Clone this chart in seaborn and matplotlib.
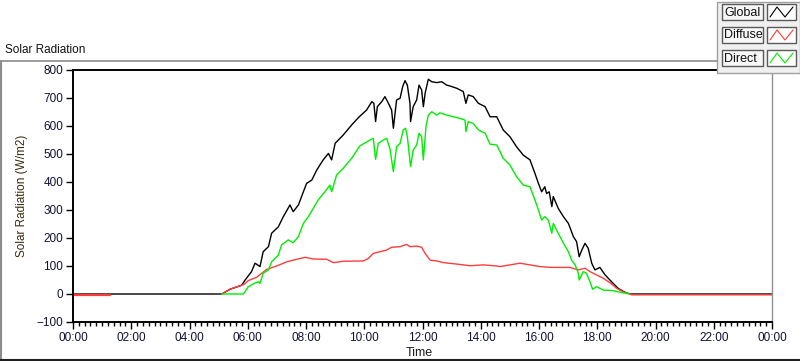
import matplotlib
matplotlib.use("Agg")
import matplotlib.pyplot as plt
import seaborn as sns
import pandas as pd
from matplotlib.lines import Line2D
from matplotlib.patches import Rectangle
from matplotlib.ticker import MultipleLocator, FuncFormatter

# --- data (time in hours of the day, W/m2) ---
global_t = [0.0, 5.11, 5.39, 5.79, 5.91, 6.13, 6.25, 6.42, 6.53, 6.71, 6.82, 7.05, 7.22,
            7.45, 7.56, 7.74, 7.91, 8.02, 8.20, 8.37, 8.59, 8.77, 8.88, 9.00, 9.28, 9.57,
            9.80, 10.08, 10.26, 10.33, 10.39, 10.45, 10.60, 10.71, 10.83, 10.94, 11.00,
            11.11, 11.23, 11.32, 11.40, 11.48, 11.57, 11.59, 11.68, 11.80, 11.88, 11.97,
            12.03, 12.09, 12.20, 12.32, 12.49, 12.66, 12.83, 12.94, 13.17, 13.40, 13.49,
            13.57, 13.74, 13.92, 14.15, 14.32, 14.55, 14.77, 15.00, 15.23, 15.46, 15.69,
            15.86, 15.98, 16.09, 16.20, 16.26, 16.35, 16.44, 16.49, 16.66, 16.84, 17.01,
            17.18, 17.29, 17.38, 17.47, 17.58, 17.69, 17.81, 17.92, 18.09, 18.27, 18.49,
            18.72, 18.95, 19.12, 24.0]
global_v = [0, 0, 17, 31, 50, 80, 110, 98, 151, 169, 217, 240, 276,
            318, 294, 318, 365, 395, 407, 443, 479, 502, 479, 538, 568, 604,
            630, 657, 687, 681, 616, 669, 687, 705, 681, 657, 592,
            693, 699, 741, 762, 746, 681, 616, 669, 693, 746, 729,
            669, 717, 767, 758, 755, 758, 746, 743, 735, 723, 681,
            711, 705, 681, 669, 633, 633, 586, 562, 526, 496, 479,
            431, 395, 365, 383, 359, 365, 312, 348, 306, 276, 252,
            205, 187, 133, 157, 181, 163, 110, 86, 95, 68, 44,
            20, 6, 0, 0]

diffuse_night_t = [0.0, 1.27]
diffuse_night_v = [-3, -3]
diffuse_t = [5.11, 5.39, 5.88, 6.02, 6.31, 6.48, 6.65, 6.99, 7.34, 7.68, 7.97, 8.25,
             8.71, 8.94, 9.28, 9.97, 10.14, 10.31, 10.54, 10.77, 10.94, 11.23, 11.46,
             11.57, 11.80, 11.97, 12.09, 12.26, 12.49, 12.72, 13.17, 13.63, 14.09, 14.55,
             14.66, 15.00, 15.35, 15.69, 16.03, 16.38, 17.06, 17.35, 17.58, 17.75, 17.98,
             18.21, 18.44, 18.67, 18.89, 19.18, 24.0]
diffuse_v = [0, 17, 35, 48, 60, 74, 88, 100, 115, 124, 131, 125,
             124, 112, 117, 118, 127, 145, 151, 157, 167, 169, 177,
             169, 171, 167, 145, 121, 118, 112, 107, 101, 104, 100,
             98, 104, 110, 104, 98, 95, 95, 86, 92, 80, 68,
             56, 40, 20, 8, -3, -3]

direct_t = [5.10, 5.85, 6.02, 6.19, 6.36, 6.42, 6.53, 6.71, 6.82, 7.05, 7.16, 7.39, 7.56,
            7.74, 7.91, 8.08, 8.25, 8.42, 8.65, 8.82, 8.88, 9.05, 9.28, 9.57, 9.85, 10.20,
            10.31, 10.39, 10.48, 10.66, 10.77, 10.88, 11.00, 11.11, 11.23, 11.34, 11.42,
            11.48, 11.59, 11.68, 11.80, 11.88, 11.97, 12.03, 12.12, 12.20, 12.32, 12.49,
            12.60, 12.83, 13.06, 13.29, 13.46, 13.49, 13.57, 13.74, 13.92, 14.15, 14.32,
            14.55, 14.77, 15.00, 15.23, 15.46, 15.69, 15.86, 15.98, 16.09, 16.20, 16.32,
            16.44, 16.49, 16.66, 16.84, 17.01, 17.12, 17.24, 17.35, 17.38, 17.52, 17.63,
            17.75, 17.84, 17.98, 18.21, 18.55, 18.84, 19.12]
direct_v = [0, 0, 26, 36, 44, 38, 74, 86, 115, 139, 175, 193, 183,
            205, 252, 276, 306, 336, 365, 389, 365, 425, 449, 485, 529, 550,
            556, 481, 538, 550, 556, 520, 437, 526, 538, 586, 592,
            562, 455, 514, 532, 574, 562, 479, 598, 639, 651, 639,
            647, 639, 633, 627, 621, 580, 616, 609, 586, 574, 535,
            532, 485, 461, 419, 389, 383, 336, 300, 264, 276, 264,
            217, 252, 217, 181, 151, 121, 104, 74, 50, 80, 74,
            44, 17, 26, 14, 12, 5, 0]

series_names = ["Global", "Diffuse", "Direct"]
series_colors = ["#000000", "#ff3c3c", "#00ee00"]
y_ticks = [-100, 0, 100, 200, 300, 400, 500, 600, 700, 800]

sns.set_theme(style="white")
plt.rcParams["font.family"] = ["Liberation Sans", "DejaVu Sans"]

W, H = 800, 361
def fx(x):
    return x / W
def fy(y):
    return 1 - y / H

fig = plt.figure(figsize=(W / 100, H / 100), dpi=100)
fig.patch.set_facecolor("white")
ax = fig.add_axes([fx(73), fy(322), (772 - 73) / W, (322 - 70) / H])

sns.lineplot(x=global_t, y=global_v, ax=ax, color=series_colors[0], lw=1.0, estimator=None)
sns.lineplot(x=diffuse_night_t, y=diffuse_night_v, ax=ax, color=series_colors[1], lw=1.6, estimator=None)
sns.lineplot(x=diffuse_t, y=diffuse_v, ax=ax, color=series_colors[1], lw=1.0, estimator=None)
sns.lineplot(x=direct_t, y=direct_v, ax=ax, color=series_colors[2], lw=1.0, estimator=None)

ax.set_xlim(0, 24)
ax.set_ylim(-100, 800)
ax.set_yticks(y_ticks)
ax.xaxis.set_major_locator(MultipleLocator(2))
ax.xaxis.set_minor_locator(MultipleLocator(0.2))
ax.xaxis.set_major_formatter(FuncFormatter(lambda v, p: "%02d:00" % (int(round(v)) % 24)))
ax.tick_params(axis="both", which="major", direction="out", length=5, width=1,
               color="black", labelsize=8.5, labelcolor="#111133", pad=2,
               bottom=True, left=True)
ax.tick_params(axis="x", which="minor", direction="out", length=3, width=1,
               color="black", bottom=True)

for side in ["top", "left", "bottom"]:
    ax.spines[side].set_color("black")
    ax.spines[side].set_linewidth(1.4)
ax.spines["right"].set_color("#909090")
ax.spines["right"].set_linewidth(1.0)

ax.set_xlabel("Time", fontsize=9, color="#1a1a1a")
ax.set_ylabel("Solar Radiation (W/m2)", fontsize=8.5, color="#3a2a10", labelpad=6)
ax.xaxis.set_label_coords(0.496, -0.10)

# outer panel frame and title
fig.add_artist(Line2D([fx(0), fx(717)], [fy(61), fy(61)], color="#8c8c8c", lw=1.2))
fig.add_artist(Line2D([fx(1), fx(1)], [fy(61), fy(361)], color="#8c8c8c", lw=1.5))
fig.add_artist(Line2D([fx(0), fx(800)], [fy(359.5), fy(359.5)], color="#202020", lw=1.5))
fig.text(fx(5), fy(50), "Solar Radiation", fontsize=8.5, color="#111111", va="center", ha="left")

# LabVIEW-style plot legend
fig.add_artist(Rectangle((fx(717), fy(73)), 83 / W, 71 / H, transform=fig.transFigure,
                         fc="#f0f0f0", ec="#a0a0a0", lw=1))
row_tops = [4, 27, 50]
for name, color, top in zip(series_names, series_colors, row_tops):
    fig.add_artist(Rectangle((fx(722), fy(top + 16)), 41 / W, 16 / H, transform=fig.transFigure,
                             fc="#f7f7f7", ec="#5a5a5a", lw=1))
    fig.text(fx(724), fy(top + 8.5), name, fontsize=9, color="#111111", va="center", ha="left")
    fig.add_artist(Rectangle((fx(767), fy(top + 16)), 29 / W, 16 / H, transform=fig.transFigure,
                             fc="white", ec="#5a5a5a", lw=1))
    fig.add_artist(Line2D([fx(770), fx(777), fx(785), fx(793)],
                          [fy(top + 13), fy(top + 3), fy(top + 13), fy(top + 3)],
                          color=color, lw=0.8))

fig.savefig("out.png", dpi=100)
